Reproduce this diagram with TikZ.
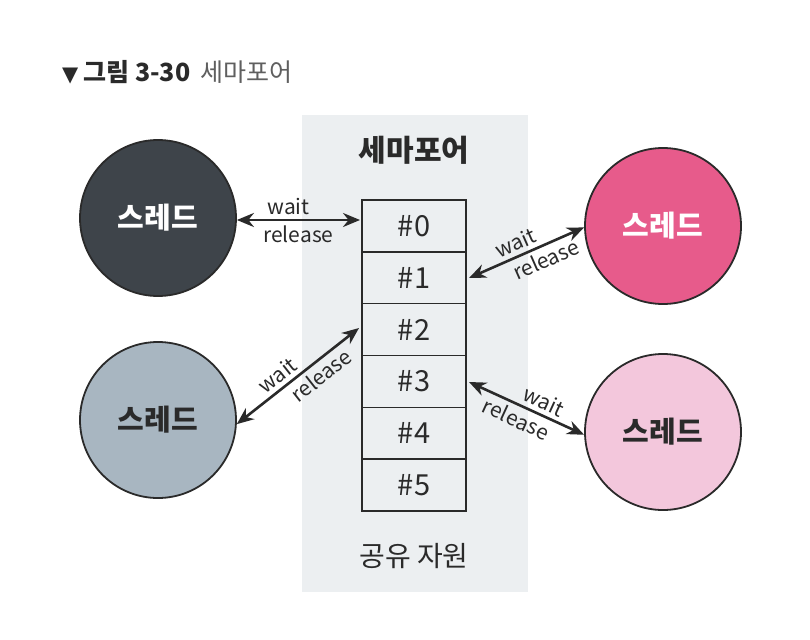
\documentclass[tikz,border=0pt]{standalone}
\usepackage{fontspec}
\setmainfont{Noto Sans CJK KR}
\newfontfamily\kr{Noto Sans CJK KR}
\newfontfamily\sym{DejaVu Sans}
\usetikzlibrary{arrows.meta}
\definecolor{panel}{HTML}{ECEFF1}
\definecolor{thA}{HTML}{3E444A}
\definecolor{thB}{HTML}{A8B6C1}
\definecolor{thC}{HTML}{E75B8B}
\definecolor{thD}{HTML}{F3C7DC}
\definecolor{ink}{HTML}{2A2A2A}
\begin{document}
\begin{tikzpicture}[x=1pt,y=-1pt,
  thread/.style={circle,draw=ink,line width=1.8pt,minimum size=156pt,inner sep=0pt,font=\kr\bfseries\fontsize{29}{32}\selectfont},
  slot/.style={draw=ink,line width=1.4pt,minimum width=104pt,minimum height=51.8pt,inner sep=0pt,font=\kr\fontsize{29}{32}\selectfont,text=ink},
  conn/.style={{Stealth[length=17pt,width=14pt]}-{Stealth[length=17pt,width=14pt]},line width=2.6pt,draw=ink},
  lbl/.style={font=\kr\fontsize{21}{23}\selectfont,text=ink,inner sep=1pt}]
\useasboundingbox (0,0) rectangle (810,639);
\fill[white] (0,0) rectangle (810,639);
\fill[panel] (302,115) rectangle (528,592);
% title
\node[anchor=west,inner sep=0pt,font=\kr\fontsize{25}{28}\selectfont] (title) at (62,72)
  {{\sym\fontsize{21}{24}\selectfont\color{ink}▼}\hspace{5pt}{\bfseries\color{ink}그림 3-30}\hspace{10pt}\textcolor{ink!75}{세마포어}};
% labels
\node[font=\kr\bfseries\fontsize{30}{32}\selectfont,text=ink] (sem) at (414,150) {세마포어};
\node[font=\kr\fontsize{28}{30}\selectfont,text=ink] (res) at (414,556) {공유 자원};
% slots
\foreach \i in {0,...,5} {
  \node[slot] (s\i) at (414,{226+51.8*\i}) {\#\i};
}
% threads
\node[thread,fill=thA,text=white] (tA) at (158,218) {스레드};
\node[thread,fill=thB,text=ink] (tB) at (158,420) {스레드};
\node[thread,fill=thC,text=white] (tC) at (663,226) {스레드};
\node[thread,fill=thD,text=ink] (tD) at (663,432) {스레드};
% connectors
\coordinate (pA) at (360,220);
\coordinate (pB) at (359,328);
\coordinate (pC) at (469,278);
\coordinate (pD) at (469,382);
\draw[conn] (tA.east |- pA) -- (pA)
  node[lbl,pos=0.42,above=3pt] {wait}
  node[lbl,pos=0.5,below=3pt] {release};
\draw[conn] (tB.-3) -- (pB)
  node[lbl,sloped,pos=0.4,above=3pt] {wait}
  node[lbl,sloped,pos=0.62,below=3pt] {release};
\draw[conn] (pC) -- (tC.181)
  node[lbl,sloped,pos=0.45,above=3pt] {wait}
  node[lbl,sloped,pos=0.62,below=3pt] {release};
\draw[conn] (pD) -- (tD.182)
  node[lbl,sloped,pos=0.6,above=3pt] {wait}
  node[lbl,sloped,pos=0.46,below=3pt] {release};
\end{tikzpicture}
\end{document}
